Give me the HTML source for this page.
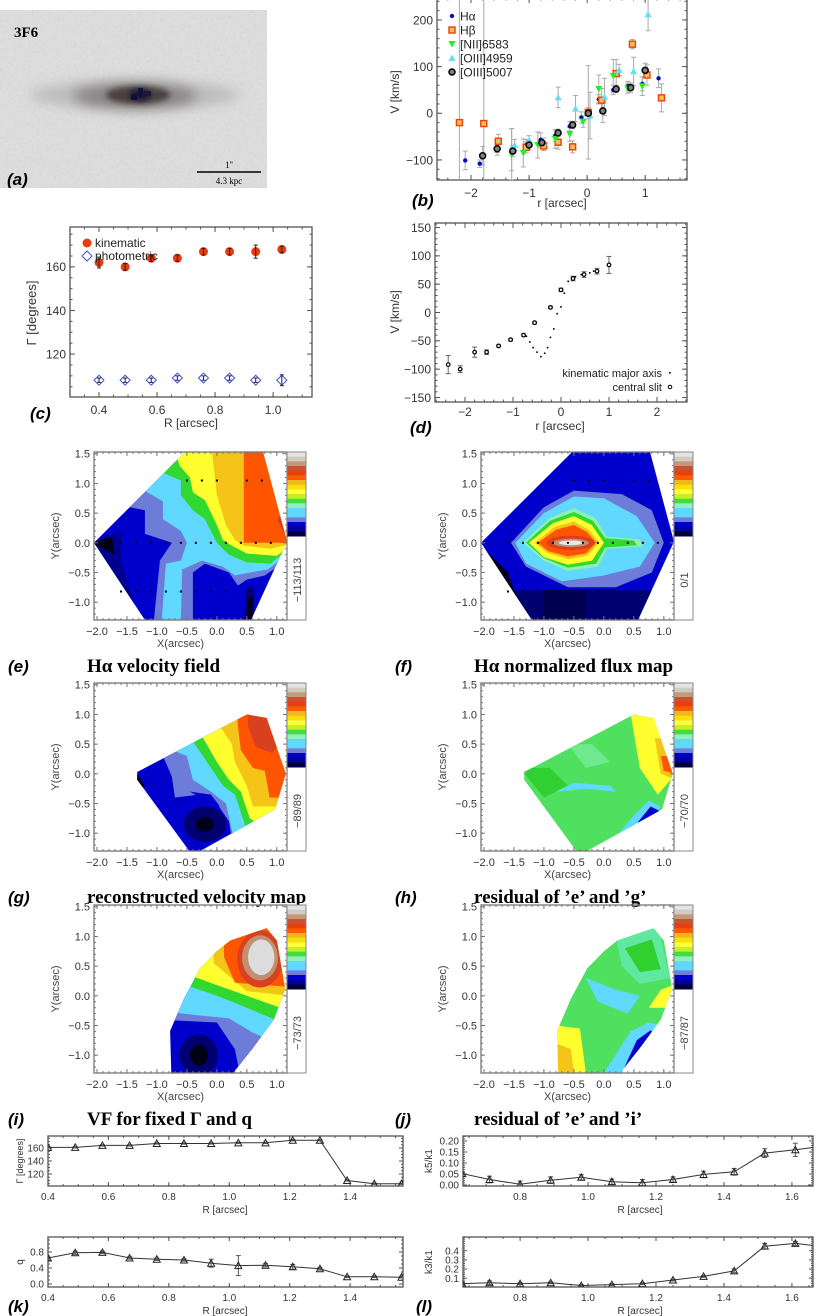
<!DOCTYPE html>
<html><head><meta charset="utf-8">
<style>
html,body{margin:0;padding:0;background:#fff;}
svg{display:block;font-family:"Liberation Sans",sans-serif;}
.lab{font-family:"Liberation Sans",sans-serif;font-weight:bold;font-style:italic;font-size:17px;fill:#000;}
.ttl{font-family:"Liberation Serif",serif;font-weight:bold;font-size:19px;fill:#000;}
</style></head>
<body>
<svg id="root" width="820" height="1316" viewBox="0 0 820 1316" xmlns="http://www.w3.org/2000/svg">
<defs>
<filter id="blur6" x="-50%" y="-50%" width="200%" height="200%"><feGaussianBlur stdDeviation="6"/></filter>
<filter id="blur3" x="-50%" y="-50%" width="200%" height="200%"><feGaussianBlur stdDeviation="3"/></filter>
<filter id="noise" filterUnits="userSpaceOnUse" x="0" y="10" width="267" height="178"><feTurbulence type="fractalNoise" baseFrequency="0.35" numOctaves="1" seed="4"/><feColorMatrix type="saturate" values="0"/><feComponentTransfer><feFuncA type="table" tableValues="0 0.15"/></feComponentTransfer></filter>
<clipPath id="clipimg"><rect x="0" y="10" width="267" height="178"/></clipPath>
</defs>
<!-- panel a: image -->
<g clip-path="url(#clipimg)">
<rect x="0" y="10" width="267" height="178" fill="#dedede"/>
<rect x="0" y="10" width="267" height="178" filter="url(#noise)"/>
<ellipse cx="135" cy="95" rx="105" ry="14" fill="#bcbcbc" filter="url(#blur6)"/>
<ellipse cx="135" cy="96" rx="62" ry="13" fill="#8a8585" filter="url(#blur6)"/>
<ellipse cx="138" cy="95" rx="32" ry="9" fill="#4a4040" filter="url(#blur3)"/>
<ellipse cx="140" cy="95" rx="10" ry="5" fill="#101030" filter="url(#blur3)"/>
<rect x="131" y="94" width="6" height="6" fill="#101040"/>
<rect x="138" y="88" width="5" height="5" fill="#101040"/>
<rect x="144" y="91" width="7" height="5" fill="#181838"/>
<text x="14" y="37" font-family="Liberation Serif,serif" font-weight="bold" font-size="15">3F6</text>
<text class="lab" x="7" y="185">(a)</text>
<line x1="197" y1="172" x2="261" y2="172" stroke="#000" stroke-width="1.5"/>
<text x="229" y="168" text-anchor="middle" font-family="Liberation Serif,serif" font-size="9">1''</text>
<text x="229" y="184" text-anchor="middle" font-family="Liberation Serif,serif" font-size="9">4.3 kpc</text>
</g>
</svg>
<script>
// ---------- data ----------
// (b) emission lines
const haR=[-2.1,-1.85,-1.55,-1.3,-1.05,-0.8,-0.55,-0.3,-0.1,0.2,0.45,0.7,0.95,1.23];
const haV=[-101,-108,-78,-78,-68,-57,-48,-28,-9,30,50,58,63,75];
const haE=[20,8,12,45,12,15,12,10,12,10,10,10,15,20];
const hbR=[-2.2,-1.78,-1.53,-1.05,-0.75,-0.5,-0.25,0.02,0.25,0.5,0.78,1.03,1.28];
const hbV=[-20,-22,-60,-73,-70,-62,-72,2,28,85,148,82,33];
const hbE=[300,300,15,12,10,15,13,100,25,30,10,22,30];
const niR=[-1.3,-1.1,-0.85,-0.55,-0.3,-0.07,0.2,0.45,0.7,0.95];
const niV=[-88,-85,-68,-55,-45,-18,52,80,53,58];
const niE=[55,30,28,20,15,12,30,35,10,20];
const o4R=[-1.25,-1.0,-0.75,-0.5,-0.2,0.05,0.3,0.55,0.8,1.05];
const o4V=[-68,-58,-63,34,10,-5,35,93,90,212];
const o4E=[12,10,10,22,28,50,40,12,30,35];
const o5R=[-1.8,-1.55,-1.28,-1.0,-0.78,-0.5,-0.25,0.02,0.27,0.5,0.75,1.0];
const o5V=[-91,-76,-81,-68,-63,-42,-25,0,5,52,55,92];
const o5E=[20,8,12,10,10,8,8,12,25,8,10,15];
// (c) position angles
const cR=[0.40,0.49,0.58,0.67,0.76,0.85,0.94,1.03];
const cKin=[162,160,164,164,167,167,167,168];
const cKinE=[2.5,1.5,1.5,1.5,1.5,1.5,3,1.5];
const cPho=[108,108,108,109,109,109,108,108];
const cPhoE=[1,1,1,1,1,1,1,2.5];
// (d) rotation curves
const dSlitR=[-2.35,-2.1,-1.8,-1.55,-1.3,-1.05,-0.78,-0.55,-0.22,0.0,0.25,0.48,0.75,1.0];
const dSlitV=[-92,-100,-70,-70,-59,-48,-40,-18,9,40,60,67,73,84];
const dSlitE=[16,6,9,4,2,2,2,2,2,3,4,5,5,15];
const dKinR=[-0.72,-0.65,-0.58,-0.5,-0.42,-0.34,-0.28,-0.22,-0.15,-0.08,0.0,0.07,0.15,0.3,0.42,0.6,0.68];
const dKinV=[-42,-52,-62,-70,-78,-72,-62,-44,-29,-2,10,34,55,63,67,70,73];
// (k) bottom left
const kR=[0.40,0.49,0.58,0.67,0.76,0.85,0.94,1.03,1.12,1.21,1.30,1.39,1.48,1.57];
const kGamma=[161,161,164,164,167,167,167,168,168,172,172,110,105,105];
const kGammaE=[1,1,1,1,1,1,1,1,1,1,1,1,1,1];
const kQ=[0.65,0.78,0.79,0.65,0.62,0.60,0.52,0.46,0.47,0.43,0.38,0.18,0.18,0.17];
const kQE=[0.02,0.04,0.03,0.03,0.03,0.03,0.1,0.25,0.04,0.06,0.03,0.02,0.02,0.02];
// (l) bottom right
const lR=[0.63,0.71,0.80,0.89,0.98,1.07,1.16,1.25,1.34,1.43,1.52,1.61,1.70];
const lK5=[0.052,0.025,0.003,0.022,0.035,0.015,0.01,0.025,0.048,0.06,0.145,0.16,0.178];
const lK5E=[0.005,0.015,0.015,0.015,0.012,0.012,0.015,0.012,0.015,0.015,0.02,0.03,0.01];
const lK3=[0.04,0.05,0.04,0.05,0.02,0.03,0.04,0.08,0.12,0.18,0.45,0.48,0.44];
const lK3E=[0.01,0.02,0.01,0.01,0.01,0.01,0.01,0.01,0.01,0.02,0.03,0.02,0.01];

// ---------- helpers ----------
const NS='http://www.w3.org/2000/svg';
const root=document.getElementById('root');
function mk(tag,attrs,name,parent){
  const el=document.createElementNS(NS,tag);
  for(const k in attrs) el.setAttribute(k,attrs[k]);
  
  
  (parent||root).appendChild(el);
  return el;
}
function txt(s,attrs,name,parent){const t=mk('text',attrs,name,parent);t.textContent=s;return t;}
function grp(name){return mk('g',{},name,root);}

function axes(g,c){
  const sx=v=>c.x0+(v-c.xmin)/(c.xmax-c.xmin)*(c.x1-c.x0);
  const sy=v=>c.y1-(v-c.ymin)/(c.ymax-c.ymin)*(c.y1-c.y0);
  const col=c.col||'#555';
  mk('rect',{x:c.x0,y:c.y0,width:c.x1-c.x0,height:c.y1-c.y0,fill:'none',stroke:col,'stroke-width':1.3},'plot-frame',g);
  const ML=c.ml||5, mL=c.mnl||2.5, fs=c.fs||11;
  if(c.xminor){for(let v=Math.ceil(c.xmin/c.xminor-1e-6)*c.xminor;v<=c.xmax+1e-9;v+=c.xminor){const x=sx(v);
    mk('line',{x1:x,x2:x,y1:c.y1,y2:c.y1-mL,stroke:col},'x-minor-tick',g);
    mk('line',{x1:x,x2:x,y1:c.y0,y2:c.y0+mL,stroke:col},'x-minor-tick',g);}}
  if(c.yminor){for(let v=Math.ceil(c.ymin/c.yminor-1e-6)*c.yminor;v<=c.ymax+1e-9;v+=c.yminor){const y=sy(v);
    mk('line',{x1:c.x0,x2:c.x0+mL,y1:y,y2:y,stroke:col},'y-minor-tick',g);
    mk('line',{x1:c.x1,x2:c.x1-mL,y1:y,y2:y,stroke:col},'y-minor-tick',g);}}
  c.xticks.forEach((v,i)=>{const x=sx(v);
    mk('line',{x1:x,x2:x,y1:c.y1,y2:c.y1-ML,stroke:col},'x-major-tick',g);
    mk('line',{x1:x,x2:x,y1:c.y0,y2:c.y0+ML,stroke:col},'x-major-tick',g);
    txt(c.xlab[i],{x:x,y:c.y1+(c.xoff||fs+5),'text-anchor':'middle','font-size':fs,fill:'#333'},'x-tick-label',g);});
  c.yticks.forEach((v,i)=>{const y=sy(v);
    mk('line',{x1:c.x0,x2:c.x0+ML,y1:y,y2:y,stroke:col},'y-major-tick',g);
    mk('line',{x1:c.x1,x2:c.x1-ML,y1:y,y2:y,stroke:col},'y-major-tick',g);
    txt(c.ylab[i],{x:c.x0-(c.yoff||4),y:y+fs*0.36,'text-anchor':'end','font-size':fs,fill:'#333'},'y-tick-label',g);});
  return {sx,sy};
}
function ebar(g,x,y1,y2,col,w){
  mk('line',{x1:x,x2:x,y1:y1,y2:y2,stroke:col,'stroke-width':1},'error-bar',g);
  mk('line',{x1:x-w,x2:x+w,y1:y1,y2:y1,stroke:col},'error-cap',g);
  mk('line',{x1:x-w,x2:x+w,y1:y2,y2:y2,stroke:col},'error-cap',g);
}
function marker(g,type,x,y,name){
  if(type==='dot') return mk('circle',{cx:x,cy:y,r:2.2,fill:'#0010c0'},name,g);
  if(type==='sq') return mk('rect',{x:x-3,y:y-3,width:6,height:6,fill:'#e8c060',stroke:'#f04000','stroke-width':1.4},name,g);
  if(type==='tdn') return mk('polygon',{points:`${x-3.5},${y-3} ${x+3.5},${y-3} ${x},${y+3.5}`,fill:'#20f020'},name,g);
  if(type==='tup') return mk('polygon',{points:`${x-3.5},${y+3} ${x+3.5},${y+3} ${x},${y-3.5}`,fill:'#60e0f0'},name,g);
  if(type==='circ') return mk('circle',{cx:x,cy:y,r:3,fill:'#808080',stroke:'#000','stroke-width':1.5},name,g);
}

// ---------- panel b ----------
{
 const g=grp('panel-b-velocity-curves');
 const a=axes(g,{x0:437,x1:687,y0:-2,y1:180,xmin:-2.586,xmax:1.72,ymin:-143,ymax:247,
   xticks:[-2,-1,0,1],xlab:['\u22122','\u22121','0','1'],yticks:[-100,0,100,200],ylab:['\u2212100','0','100','200'],xminor:0.2,yminor:20,fs:12,xoff:17});
 txt('V [km/s]',{x:0,y:0,transform:'translate(399,92) rotate(-90)','text-anchor':'middle','font-size':12,fill:'#333'},'y-axis-title',g);
 txt('r [arcsec]',{x:562,y:207,'text-anchor':'middle','font-size':12,fill:'#333'},'x-axis-title',g);
 txt('(b)',{x:412,y:206,class:'lab'},'panel-label-b',g);
 const ser=[[haR,haV,haE,'dot','halpha-point'],[hbR,hbV,hbE,'sq','hbeta-point'],[niR,niV,niE,'tdn','nii-point'],[o4R,o4V,o4E,'tup','oiii4959-point'],[o5R,o5V,o5E,'circ','oiii5007-point']];
 const cp=mk('clipPath',{id:'clipb'},'clip-b',g);
 mk('rect',{x:437,y:-2,width:250,height:182},'clip-rect',cp);
 const eg=mk('g',{'clip-path':'url(#clipb)'},'error-bars',g);
 ser.forEach(s=>{s[0].forEach((r,i)=>ebar(eg,a.sx(r),a.sy(s[1][i]+s[2][i]),a.sy(s[1][i]-s[2][i]),'#aaa',2.5));});
 ser.forEach(s=>{s[0].forEach((r,i)=>marker(g,s[3],a.sx(r),a.sy(s[1][i]),s[4]));});
 const leg=[['dot','H\u03b1'],['sq','H\u03b2'],['tdn','[NII]6583'],['tup','[OIII]4959'],['circ','[OIII]5007']];
 leg.forEach((l,i)=>{const y=16+i*14;marker(g,l[0],452,y,'legend-marker');
   txt(l[1],{x:460,y:y+4.5,'font-size':12,fill:'#222'},'legend-entry',g);});
}
// ---------- panel c ----------
{
 const g=grp('panel-c-position-angle');
 const a=axes(g,{x0:70,x1:312,y0:227,y1:397,xmin:0.30,xmax:1.134,ymin:100.3,ymax:178.3,
   xticks:[0.4,0.6,0.8,1.0],xlab:['0.4','0.6','0.8','1.0'],yticks:[120,140,160],ylab:['120','140','160'],xminor:0.05,yminor:5,fs:12,xoff:17});
 txt('\u0393 [degrees]',{x:0,y:0,transform:'translate(36,313) rotate(-90)','text-anchor':'middle','font-size':13,fill:'#333'},'y-axis-title',g);
 txt('R [arcsec]',{x:191,y:427,'text-anchor':'middle','font-size':12,fill:'#333'},'x-axis-title',g);
 txt('(c)',{x:30,y:419,class:'lab'},'panel-label-c',g);
 cR.forEach((r,i)=>{const x=a.sx(r);
   mk('circle',{cx:x,cy:a.sy(cKin[i]),r:4.5,fill:'#e83c10'},'kinematic-point',g);
   ebar(g,x,a.sy(cKin[i]+cKinE[i]),a.sy(cKin[i]-cKinE[i]),'#222',2);
   const y=a.sy(cPho[i]);
   mk('polygon',{points:`${x-5},${y} ${x},${y-5} ${x+5},${y} ${x},${y+5}`,fill:'none',stroke:'#4050e0','stroke-width':1},'photometric-point',g);
   ebar(g,x,a.sy(cPho[i]+cPhoE[i]),a.sy(cPho[i]-cPhoE[i]),'#222',2);});
 mk('circle',{cx:87,cy:243,r:4.5,fill:'#e83c10'},'legend-marker-kinematic',g);
 txt('kinematic',{x:95,y:247,'font-size':12,fill:'#222'},'legend-entry',g);
 mk('polygon',{points:'82,256 87,251 92,256 87,261',fill:'none',stroke:'#4050e0'},'legend-marker-photometric',g);
 txt('photometric',{x:95,y:260,'font-size':12,fill:'#222'},'legend-entry',g);
}
// ---------- panel d ----------
{
 const g=grp('panel-d-rotation-curve');
 const a=axes(g,{x0:435,x1:687,y0:223,y1:402,xmin:-2.625,xmax:2.625,ymin:-158,ymax:158,
   xticks:[-2,-1,0,1,2],xlab:['\u22122','\u22121','0','1','2'],yticks:[-150,-100,-50,0,50,100,150],ylab:['\u2212150','\u2212100','\u221250','0','50','100','150'],xminor:0.2,yminor:10,fs:12,xoff:14});
 txt('V [km/s]',{x:0,y:0,transform:'translate(399,312) rotate(-90)','text-anchor':'middle','font-size':12,fill:'#333'},'y-axis-title',g);
 txt('r [arcsec]',{x:560,y:430,'text-anchor':'middle','font-size':12,fill:'#333'},'x-axis-title',g);
 txt('(d)',{x:410,y:433,class:'lab'},'panel-label-d',g);
 dSlitR.forEach((r,i)=>{const x=a.sx(r);
   ebar(g,x,a.sy(dSlitV[i]+dSlitE[i]),a.sy(dSlitV[i]-dSlitE[i]),'#666',2.5);
   mk('circle',{cx:x,cy:a.sy(dSlitV[i]),r:1.8,fill:'#fff',stroke:'#000','stroke-width':1.2},'central-slit-point',g);});
 dKinR.forEach((r,i)=>mk('rect',{x:a.sx(r)-0.8,y:a.sy(dKinV[i])-0.8,width:1.6,height:1.6,fill:'#000'},'kinematic-axis-point',g));
 txt('kinematic major axis',{x:662,y:377,'text-anchor':'end','font-size':11,fill:'#222'},'legend-entry',g);
 mk('rect',{x:669,y:372,width:1.6,height:1.6,fill:'#000'},'legend-marker-kinematic',g);
 txt('central slit',{x:662,y:391,'text-anchor':'end','font-size':11,fill:'#222'},'legend-entry',g);
 mk('circle',{cx:670,cy:387,r:1.8,fill:'#fff',stroke:'#000'},'legend-marker-slit',g);
}
// ---------- maps ----------
const CB=['#e4e4e4','#cfccc4','#c49a78','#cc5030','#e44010','#ff5a00','#f0b820','#f8e000','#ffff40','#c8f020','#40dc40','#90f0c0','#60d8ff','#60d8ff','#7080d8','#0000c8','#0000a0','#000040'];
const C={gray:'#dcdcdc',tan:'#c09070',red:'#d84020',org:'#ff5500',gold:'#f4c418',yel:'#ffff30',grn:'#30d830',lgrn:'#90f0b0',cyan:'#60d8ff',slate:'#6c7cd8',blue:'#0000cc',dblue:'#000070',blk:'#000018'};
function mapPanel(id,X0,Y0,region,layers,cbText,label,title,dots){
  const g=grp('map-panel-'+id);
  const W=193,H=168;
  const a={sx:v=>X0+(v+2.05)/3.22*W, sy:v=>Y0+H-(v+1.3)/2.83*H};
  const cp=mk('clipPath',{id:'clip'+id},'map-clip',g);
  const pts=p=>p.map(q=>a.sx(q[0]).toFixed(1)+','+a.sy(q[1]).toFixed(1)).join(' ');
  mk('polygon',{points:pts(region)},'map-region',cp);
  const lg=mk('g',{'clip-path':'url(#clip'+id+')'},'map-fill',g);
  layers.forEach(L=>{
    if(L.e) mk('ellipse',{cx:a.sx(L.e[0]),cy:a.sy(L.e[1]),rx:L.e[2]*W/3.22,ry:L.e[3]*H/2.83,fill:L.c},'contour-blob',lg);
    else mk('polygon',{points:pts(L.p),fill:L.c},'contour-band',lg);
  });
  (dots||[]).forEach(d=>mk('rect',{x:a.sx(d[0])-1,y:a.sy(d[1])-1,width:2,height:2,fill:'#000'},'spaxel-dot',g));
  axes(g,{x0:X0,x1:X0+W,y0:Y0,y1:Y0+H,xmin:-2.05,xmax:1.17,ymin:-1.3,ymax:1.53,
    xticks:[-2,-1.5,-1,-0.5,0,0.5,1],xlab:['\u22122.0','\u22121.5','\u22121.0','\u22120.5','0.0','0.5','1.0'],
    yticks:[-1,-0.5,0,0.5,1,1.5],ylab:['\u22121.0','\u22120.5','0.0','0.5','1.0','1.5'],xminor:0.1,yminor:0.1,fs:11,xoff:15,col:'#777',ml:4,mnl:2});
  txt('X(arcsec)',{x:X0+W/2-10,y:Y0+H+27,'text-anchor':'middle','font-size':11,fill:'#444'},'x-axis-title',g);
  txt('Y(arcsec)',{x:0,y:0,transform:`translate(${X0-35},${Y0+H/2}) rotate(-90)`,'text-anchor':'middle','font-size':11,fill:'#444'},'y-axis-title',g);
  const bx=X0+W, bw=19, bh=84, n=CB.length;
  CB.forEach((c,i)=>mk('rect',{x:bx,y:Y0+i*bh/n,width:bw,height:bh/n+0.5,fill:c},'colorbar-band',g));
  mk('rect',{x:bx,y:Y0,width:bw,height:H,fill:'none',stroke:'#888'},'colorbar-frame',g);
  txt(cbText,{x:0,y:0,transform:`translate(${bx+14},${Y0+bh+44}) rotate(-90)`,'text-anchor':'middle','font-size':11,fill:'#444'},'colorbar-range-label',g);
  txt(label,{x:X0-86,y:Y0+H+52,class:'lab'},'panel-label-'+id,g);
  txt(title,{x:X0-7,y:Y0+H+52,class:'ttl'},'map-title',g);
}
const regE=[[-2.05,0],[-0.53,1.53],[0.77,1.53],[1.17,0.02],[0.57,-1.3],[-1.2,-1.3]];
const rowDots=[];
[-0.5,-0.25,0,0.5,0.75].forEach(x=>rowDots.push([x,1.05]));
for(let x=-1.6;x<=1.01;x+=0.25) rowDots.push([x,0]);
for(let x=-1.6;x<=0.31;x+=0.25) rowDots.push([x,-0.82]);
mapPanel('e',94,452,regE,[
 {p:[[-3,-3],[3,-3],[3,3],[-3,3]],c:C.blue},
 {p:[[-2.1,0],[-1.6,0.2],[-1.6,-0.3],[-1.3,-1.3],[-2.1,-1.3]],c:'#000090'},
 {p:[[-2.1,0],[-1.75,0.1],[-1.7,-0.2]],c:C.blk},
 {p:[[-1.45,0.6],[-1.2,0.55],[-1.2,0.15],[-0.75,0.0],[-0.95,-0.3],[-1.05,-1.3],[-0.4,-1.3],[-0.4,-0.5],[-0.2,-0.35],[0.2,-0.5],[0.35,-0.72],[0.5,-0.62],[0.8,-0.55],[1.3,-0.2],[1.3,1.7],[-1.45,1.7]],c:C.slate},
 {p:[[-1.25,0.9],[-0.9,0.7],[-0.9,0.4],[-0.6,0.2],[-0.5,0.0],[-0.6,-0.3],[-0.85,-0.35],[-0.92,-1.3],[-0.6,-1.3],[-0.58,-0.45],[-0.25,-0.3],[0.1,-0.4],[0.3,-0.55],[0.55,-0.5],[0.85,-0.45],[1.3,-0.1],[1.3,1.7],[-1.25,1.7]],c:C.cyan},
 {p:[[-0.95,1.2],[-0.6,1.05],[-0.6,0.8],[-0.4,0.55],[-0.2,0.4],[-0.1,0.2],[0.0,0.0],[0.2,-0.2],[0.5,-0.33],[0.9,-0.35],[1.3,0],[1.3,1.7],[-0.95,1.7]],c:C.grn},
 {p:[[-0.75,1.7],[-0.62,1.3],[-0.45,1.1],[-0.4,0.85],[-0.2,0.72],[0.0,0.3],[0.1,0.05],[0.25,-0.05],[0.5,-0.18],[1.0,-0.22],[1.3,0],[1.3,1.7]],c:C.yel},
 {p:[[-0.1,1.7],[0.0,0.8],[0.15,0.3],[0.3,0.05],[0.45,-0.05],[0.9,-0.1],[1.3,0],[1.3,1.7]],c:C.gold},
 {p:[[0.45,1.7],[0.45,0.0],[1.3,0.0],[1.3,1.7]],c:C.org},
 {p:[[1.0,0.4],[1.2,0.0],[1.2,0.6]],c:C.red},
 {p:[[0.45,-1.3],[0.5,-0.75],[0.62,-0.75],[0.62,-1.3]],c:C.dblue},
 {p:[[0.5,-1.3],[0.54,-0.9],[0.6,-0.9],[0.6,-1.3]],c:C.blk}
],'\u2212113/113','(e)','H\u03b1 velocity field',rowDots);

mapPanel('f',481,452,regE,[
 {p:[[-3,-3],[3,-3],[3,3],[-3,3]],c:C.blue},
 {p:[[-2.1,-0.8],[1.3,-0.8],[1.3,-1.4],[-2.1,-1.4]],c:C.dblue},
 {p:[[-1.0,-0.8],[-0.3,-0.8],[-0.3,-1.4],[-1.0,-1.4]],c:'#000050'},
 {p:[[-2.1,0],[-1.6,-0.5],[-1.3,-1.4],[-2.1,-1.4]],c:C.blk},
 {p:[[-1.55,0],[-1.0,0.6],[-0.5,0.88],[0.3,0.82],[0.8,0.55],[1.0,0.0],[0.8,-0.5],[0.2,-0.75],[-0.6,-0.75],[-1.3,-0.4]],c:C.slate},
 {p:[[-1.48,0],[-1.0,0.5],[-0.5,0.78],[0.0,0.75],[0.55,0.45],[0.85,0],[0.6,-0.4],[0.0,-0.55],[-0.7,-0.65],[-1.3,-0.35]],c:C.cyan},
 {p:[[-1.35,0],[-0.9,0.42],[-0.5,0.58],[-0.15,0.42],[0.05,0.1],[0.6,0.06],[0.65,-0.06],[0.05,-0.1],[-0.1,-0.4],[-0.6,-0.47],[-1.0,-0.3]],c:C.lgrn},
 {p:[[-1.3,0],[-0.9,0.37],[-0.5,0.52],[-0.18,0.37],[0.02,0.08],[0.5,0.04],[0.55,-0.04],[0.02,-0.08],[-0.13,-0.35],[-0.6,-0.42],[-1.0,-0.26]],c:C.grn},
 {p:[[-1.25,0],[-0.85,0.33],[-0.5,0.45],[-0.2,0.3],[0.0,0],[-0.2,-0.3],[-0.6,-0.37],[-1.0,-0.24]],c:C.yel},
 {p:[[-1.15,0],[-0.82,0.27],[-0.5,0.36],[-0.25,0.22],[-0.08,0],[-0.28,-0.22],[-0.6,-0.28],[-0.95,-0.17]],c:C.gold},
 {p:[[-1.1,0],[-0.8,0.22],[-0.5,0.3],[-0.28,0.18],[-0.13,0],[-0.3,-0.18],[-0.6,-0.23],[-0.93,-0.14]],c:C.org},
 {e:[-0.55,0,0.4,0.12],c:C.red},
 {e:[-0.55,0,0.3,0.07],c:C.tan},
 {e:[-0.55,0,0.2,0.04],c:'#e8e8e8'}
],'0/1','(f)','H\u03b1 normalized flux map',rowDots);

const regG=[[-1.33,0.03],[0.5,1.0],[0.83,0.94],[1.15,0.0],[0.97,-0.6],[-0.28,-1.3],[-0.46,-1.3],[-1.33,-0.1]];
mapPanel('g',94,683,regG,[
 {p:[[-3,-3],[3,-3],[3,3],[-3,3]],c:C.blue},
 {p:[[-1.4,0.1],[-1.2,-0.2],[-1.4,-0.3]],c:C.blk},
 {p:[[-1.4,0.3],[-0.9,0.3],[-0.75,-0.05],[-0.7,-0.4],[-0.3,-0.35],[0.0,-0.5],[0.2,-0.8],[0.3,-1.4],[1.5,-1.4],[1.5,1.6],[-1.4,1.6]],c:C.slate},
 {p:[[-0.45,-0.3],[-0.1,-0.35],[0.05,-0.55],[-0.1,-0.5]],c:C.blue},
 {p:[[-1.0,0.5],[-0.5,0.3],[-0.4,-0.1],[-0.1,-0.3],[0.15,-0.5],[0.35,-1.4],[1.5,-1.4],[1.5,1.6],[-1.0,1.6]],c:C.cyan},
 {p:[[-0.5,0.7],[-0.3,0.4],[-0.1,0.1],[0.1,-0.2],[0.3,-0.35],[0.45,-0.8],[0.6,-1.4],[1.5,-1.4],[1.5,1.6],[-0.5,1.6]],c:C.grn},
 {p:[[-0.4,0.9],[-0.2,0.55],[0.0,0.2],[0.2,-0.1],[0.4,-0.3],[0.55,-0.75],[1.5,-1.4],[1.5,1.6]],c:C.yel},
 {p:[[0.0,1.6],[0.05,0.8],[0.25,0.5],[0.3,0.2],[0.5,-0.2],[0.6,-0.55],[1.5,-0.55],[1.5,1.6]],c:C.gold},
 {p:[[0.3,1.6],[0.35,0.8],[0.4,0.4],[0.6,0.1],[0.8,0.05],[0.88,-0.4],[1.5,-0.4],[1.5,1.6]],c:C.org},
 {p:[[0.5,1.6],[0.52,0.8],[0.65,0.45],[0.92,0.35],[1.05,0.5],[1.5,0.5],[1.5,1.6]],c:C.red},
 {e:[-0.2,-0.85,0.35,0.3],c:C.dblue},
 {e:[-0.2,-0.85,0.15,0.12],c:C.blk}
],'\u221289/89','(g)','reconstructed velocity map');

mapPanel('h',481,683,regG,[
 {p:[[-3,-3],[3,-3],[3,3],[-3,3]],c:'#50e060'},
 {p:[[-1.4,0.1],[-0.9,0.1],[-0.6,-0.2],[-1.0,-0.4]],c:'#30d030'},
 {p:[[-0.6,0.5],[-0.2,0.5],[0.1,0.2],[-0.3,0.1]],c:'#70e890'},
 {p:[[0.45,1.0],[0.85,0.95],[1.2,0.0],[0.9,-0.35],[0.6,0.1]],c:C.yel},
 {p:[[0.85,0.6],[1.2,0.6],[1.2,-0.1],[0.95,0.0]],c:C.gold},
 {p:[[0.95,0.3],[1.2,0.3],[1.2,0.0],[1.0,0.05]],c:C.org},
 {p:[[-0.8,-0.3],[-0.3,-0.25],[0.2,-0.3],[0.1,-0.2],[-0.5,-0.15]],c:C.cyan},
 {p:[[0.0,-1.3],[0.5,-0.7],[0.75,-0.45],[0.95,-0.55],[0.4,-1.3]],c:C.cyan},
 {p:[[0.3,-1.3],[0.58,-0.8],[0.78,-0.55],[0.92,-0.62],[0.6,-1.3]],c:C.blue},
 {p:[[0.5,-1.3],[0.65,-0.95],[0.78,-0.8],[0.7,-1.3]],c:C.dblue}
],'\u221270/70','(h)','residual of \u2019e\u2019 and \u2019g\u2019');

const regI=[[0.22,0.93],[0.83,1.14],[1.0,0.93],[1.14,0.11],[0.95,-0.4],[0.6,-0.88],[0.27,-1.3],[-0.76,-1.3],[-0.78,-0.59],[-0.55,-0.05],[-0.28,0.46],[0.0,0.75]];
mapPanel('i',94,905,regI,[
 {p:[[-3,-3],[3,-3],[3,3],[-3,3]],c:C.blue},
 {p:[[-1.0,-0.4],[0.0,-0.45],[0.3,-0.9],[0.4,-1.4],[1.5,-1.4],[1.5,1.6],[-1,1.6]],c:C.slate},
 {p:[[-1.0,-0.25],[-0.3,-0.33],[0.2,-0.38],[0.6,-0.62],[1.2,-0.9],[1.5,1.6],[-1,1.6]],c:C.cyan},
 {p:[[-1.0,0.35],[0.0,0.0],[0.5,-0.2],[1.2,-0.5],[1.5,1.6],[-1,1.6]],c:C.grn},
 {p:[[-1.0,0.55],[0.0,0.18],[0.5,0.0],[1.2,-0.25],[1.5,1.6],[-1,1.6]],c:C.yel},
 {p:[[-0.1,1.6],[-0.05,0.55],[0.5,0.08],[1.2,0.0],[1.5,1.6]],c:C.gold},
 {p:[[0.1,1.6],[0.12,0.65],[0.3,0.22],[1.2,0.15],[1.5,1.6]],c:C.org},
 {e:[0.72,0.62,0.38,0.48],c:C.red},
 {e:[0.72,0.64,0.3,0.38],c:C.tan},
 {e:[0.74,0.65,0.22,0.3],c:C.gray},
 {e:[-0.3,-1.0,0.32,0.35],c:C.dblue},
 {e:[-0.3,-1.0,0.15,0.18],c:C.blk}
],'\u221273/73','(i)','VF for fixed \u0393 and q');

mapPanel('j',481,905,regI,[
 {p:[[-3,-3],[3,-3],[3,3],[-3,3]],c:'#50e060'},
 {p:[[0.2,1.0],[0.9,1.2],[1.1,0.3],[0.6,0.2],[0.3,0.5]],c:'#60e8a0'},
 {p:[[0.35,0.8],[0.8,0.95],[0.95,0.45],[0.6,0.4]],c:'#30d030'},
 {p:[[-0.3,0.3],[0.2,0.1],[0.6,0.0],[0.4,-0.3],[-0.1,-0.1]],c:C.cyan},
 {p:[[-0.8,-0.5],[-0.4,-0.55],[-0.3,-1.3],[-0.8,-1.3]],c:C.yel},
 {p:[[-0.8,-0.8],[-0.55,-0.9],[-0.5,-1.3],[-0.8,-1.3]],c:C.gold},
 {p:[[0.0,-1.3],[0.45,-0.6],[0.75,-0.45],[1.0,-0.5],[0.5,-1.3]],c:C.cyan},
 {p:[[0.3,-1.3],[0.55,-0.75],[0.78,-0.58],[0.9,-0.7],[0.55,-1.3]],c:C.blue},
 {p:[[0.75,-0.2],[1.2,-0.2],[1.2,0.2],[0.95,0.1]],c:C.yel}
],'\u221287/87','(j)','residual of \u2019e\u2019 and \u2019i\u2019');

// ---------- bottom line plots ----------
function linePlot(id,cfg,xs,ys,es){
  const g=grp('line-plot-'+id);
  const a=axes(g,cfg);
  const cp=mk('clipPath',{id:'clip'+id},'plot-clip',g);
  mk('rect',{x:cfg.x0,y:cfg.y0,width:cfg.x1-cfg.x0,height:cfg.y1-cfg.y0},'clip-rect',cp);
  const pg=mk('g',{'clip-path':'url(#clip'+id+')'},'plot-series',g);
  mk('polyline',{points:xs.map((x,i)=>a.sx(x).toFixed(1)+','+a.sy(ys[i]).toFixed(1)).join(' '),fill:'none',stroke:'#333','stroke-width':1},'series-line',pg);
  xs.forEach((x,i)=>{const X=a.sx(x),Y=a.sy(ys[i]);
    ebar(pg,X,a.sy(ys[i]+es[i]),a.sy(ys[i]-es[i]),'#555',2.5);
    mk('polygon',{points:`${X-3.5},${Y+3} ${X+3.5},${Y+3} ${X},${Y-3.5}`,fill:'none',stroke:'#222','stroke-width':1},'triangle-marker',pg);});
  return g;
}
const fsB=10;
{
 const g=linePlot('gamma',{x0:48,x1:403,y0:1136,y1:1186,xmin:0.4,xmax:1.575,ymin:101.5,ymax:178.5,xticks:[0.4,0.6,0.8,1.0,1.2,1.4],xlab:['0.4','0.6','0.8','1.0','1.2','1.4'],yticks:[120,140,160],ylab:['120','140','160'],xminor:0.05,yminor:5,fs:fsB,xoff:14,ml:4,mnl:2},kR,kGamma,kGammaE);
 txt('\u0393 [degrees]',{x:0,y:0,transform:'translate(23,1161) rotate(-90)','text-anchor':'middle','font-size':9,fill:'#333'},'y-axis-title',g);
 txt('R [arcsec]',{x:225,y:1213,'text-anchor':'middle','font-size':10,fill:'#333'},'x-axis-title',g);
}
{
 const g=linePlot('q',{x0:48,x1:403,y0:1237,y1:1287,xmin:0.4,xmax:1.575,ymin:-0.075,ymax:1.175,xticks:[0.4,0.6,0.8,1.0,1.2,1.4],xlab:['0.4','0.6','0.8','1.0','1.2','1.4'],yticks:[0,0.4,0.8],ylab:['0.0','0.4','0.8'],xminor:0.05,yminor:0.1,fs:fsB,xoff:14,ml:4,mnl:2},kR,kQ,kQE);
 txt('q',{x:0,y:0,transform:'translate(23,1262) rotate(-90)','text-anchor':'middle','font-size':10,fill:'#333'},'y-axis-title',g);
 txt('R [arcsec]',{x:225,y:1314,'text-anchor':'middle','font-size':10,fill:'#333'},'x-axis-title',g);
 txt('(k)',{x:8,y:1312,class:'lab'},'panel-label-k',g);
}
{
 const g=linePlot('k5',{x0:463,x1:813,y0:1136,y1:1186,xmin:0.632,xmax:1.662,ymin:-0.0045,ymax:0.2227,xticks:[0.8,1.0,1.2,1.4,1.6],xlab:['0.8','1.0','1.2','1.4','1.6'],yticks:[0,0.05,0.1,0.15,0.2],ylab:['0.00','0.05','0.10','0.15','0.20'],xminor:0.05,yminor:0.01,fs:fsB,xoff:14,ml:4,mnl:2},lR,lK5,lK5E);
 txt('k5/k1',{x:0,y:0,transform:'translate(432,1161) rotate(-90)','text-anchor':'middle','font-size':10,fill:'#333'},'y-axis-title',g);
 txt('R [arcsec]',{x:640,y:1213,'text-anchor':'middle','font-size':10,fill:'#333'},'x-axis-title',g);
}
{
 const g=linePlot('k3',{x0:463,x1:813,y0:1237,y1:1287,xmin:0.632,xmax:1.662,ymin:0.004,ymax:0.55,xticks:[0.8,1.0,1.2,1.4,1.6],xlab:['0.8','1.0','1.2','1.4','1.6'],yticks:[0.1,0.2,0.3,0.4],ylab:['0.1','0.2','0.3','0.4'],xminor:0.05,yminor:0.02,fs:fsB,xoff:14,ml:4,mnl:2},lR,lK3,lK3E);
 txt('k3/k1',{x:0,y:0,transform:'translate(432,1262) rotate(-90)','text-anchor':'middle','font-size':10,fill:'#333'},'y-axis-title',g);
 txt('R [arcsec]',{x:640,y:1314,'text-anchor':'middle','font-size':10,fill:'#333'},'x-axis-title',g);
 txt('(l)',{x:416,y:1312,class:'lab'},'panel-label-l',g);
}
</script>
</body></html>
